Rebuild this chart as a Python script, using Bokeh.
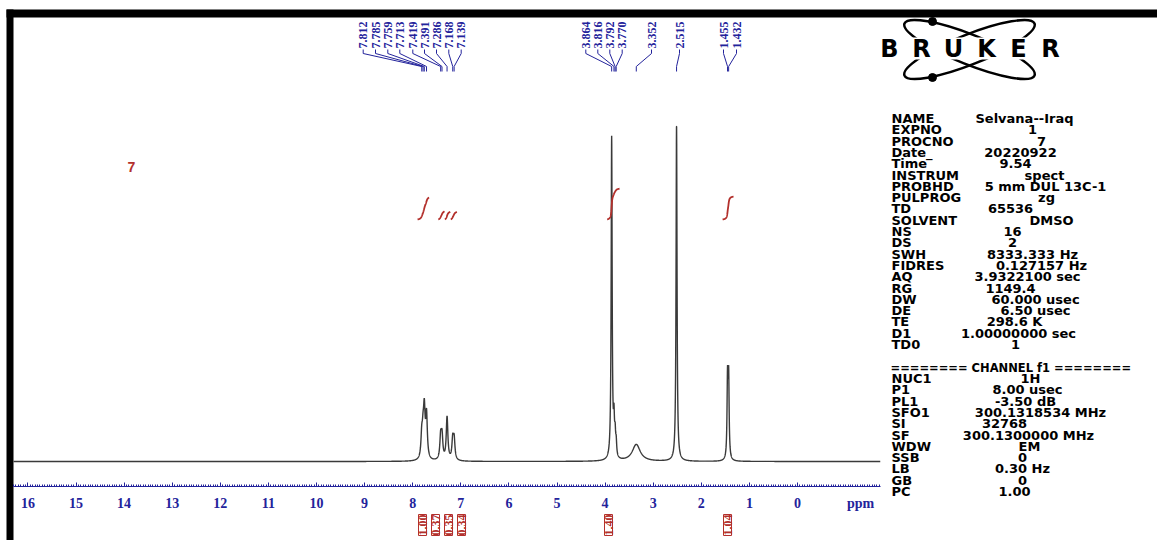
import numpy as np
from bokeh.plotting import figure
from bokeh.models import Range1d, FixedTicker, ColumnDataSource, LabelSet, Label
from bokeh.core.properties import value
from bokeh.embed import file_html
from bokeh.resources import INLINE

# ---------------- data ----------------
peak_ppm = [7.812, 7.785, 7.759, 7.713, 7.419, 7.391, 7.286, 7.168, 7.139,
            3.864, 3.816, 3.792, 3.770, 3.352, 2.515, 1.455, 1.432]
peak_height = [6.5, 6.5, 13.4, 12.8, 6.7, 6.7, 12.8, 5.9, 5.9,
               95.6, 10.0, 6.0, 4.0, 5.0, 100.0, 23.4, 23.4]
peak_halfwidth = [0.02, 0.02, 0.02, 0.02, 0.02, 0.02, 0.02, 0.02, 0.02,
                  0.012, 0.012, 0.012, 0.012, 0.10, 0.012, 0.012, 0.012]

integral_value = [1.00, 0.37, 0.35, 0.34, 1.40, 1.04]
integral_start = [7.90, 7.47, 7.33, 7.21, 3.96, 1.56]
integral_end = [7.66, 7.34, 7.22, 7.08, 3.70, 1.33]

ppm_ticks = [16, 15, 14, 13, 12, 11, 10, 9, 8, 7, 6, 5, 4, 3, 2, 1, 0]
spectrum_start, spectrum_end = 16.3, -1.72

sample_label = "7"

param_names = ["NAME", "EXPNO", "PROCNO", "Date_", "Time", "INSTRUM", "PROBHD",
               "PULPROG", "TD", "SOLVENT", "NS", "DS", "SWH", "FIDRES", "AQ",
               "RG", "DW", "DE", "TE", "D1", "TD0"]
param_values = ["Selvana--Iraq", "1", "7", "20220922", "9.54", "spect",
                "5 mm DUL 13C-1", "zg", "65536", "DMSO", "16", "2",
                "8333.333 Hz", "0.127157 Hz", "3.9322100 sec", "1149.4",
                "60.000 usec", "6.50 usec", "298.6 K", "1.00000000 sec", "1"]
channel_title = "======== CHANNEL f1 ========"
channel_names = ["NUC1", "P1", "PL1", "SFO1", "SI", "SF", "WDW", "SSB", "LB", "GB", "PC"]
channel_values = ["1H", "8.00 usec", "-3.50 dB", "300.1318534 MHz", "32768",
                  "300.1300000 MHz", "EM", "0", "0.30 Hz", "0", "1.00"]

# ---------------- layout (screen positions) ----------------
W, H = 1157, 540
X0, X1 = 16.570, -7.484          # ppm at left / right edge of the frame
Y0, Y1 = -23.44, 136.76          # intensity at bottom / top edge of the frame
AXIS_AT = -7.42
peak_label_px = [362.7, 375, 387.3, 399.3, 412.3, 424, 436, 448.3, 460.7,
                 585.3, 597.3, 609.3, 621.7, 651, 679, 723, 736]
integral_label_px = [422, 435, 448, 461, 608, 727]
param_value_cx = [1024, 1032, 1041, 1020, 1015, 1044, 1045, 1046, 1010, 1051,
                  1012, 1012, 1032, 1041, 1027, 1010, 1035, 1035, 1014, 1018, 1015]
channel_value_cx = [1030, 1027, 1025, 1040, 1004, 1028, 1029, 1022, 1022, 1022, 1014]

NAVY = "#23239b"
RED = "#b3302c"
GRAY = "#3a3a3a"


def px_to_ppm(xp):
    return X0 + (np.asarray(xp, dtype=float)) * (X1 - X0) / W


p = figure(width=W, height=H, output_backend="svg", toolbar_location=None,
           x_range=Range1d(X0, X1), y_range=Range1d(Y0, Y1),
           x_axis_location="below", y_axis_location=None,
           min_border=0, min_border_left=0, min_border_right=0, min_border_top=0,
           min_border_bottom=0,
           outline_line_color=None, background_fill_color="white",
           border_fill_color="white")
p.extra_x_ranges = {"px": Range1d(0, W)}
p.extra_y_ranges = {"py": Range1d(H, 0)}
p.grid.grid_line_color = None

# ppm axis (drawn inside the frame at a fixed location)
ax = p.xaxis[0]
minor = [round(-1.7 + 0.05 * i, 2) for i in range(361)]
ax.ticker = FixedTicker(ticks=ppm_ticks, minor_ticks=minor)
ax.bounds = (spectrum_end, spectrum_start)
ax.fixed_location = AXIS_AT
ax.axis_line_color = NAVY
ax.axis_line_width = 1.2
ax.major_tick_in = 4
ax.major_tick_out = 0
ax.minor_tick_in = 2
ax.minor_tick_out = 0
ax.major_tick_line_color = NAVY
ax.minor_tick_line_color = NAVY
ax.major_label_text_font = "Liberation Serif"
ax.major_label_text_font_style = "bold"
ax.major_label_text_font_size = "14px"
ax.major_label_text_color = NAVY
ax.major_label_standoff = 11

# frame border bars
p.quad(left=[6, 6], right=[W, 13], top=[9, 9], bottom=[17, H], x_range_name="px",
       y_range_name="py", fill_color="black", line_color=None)

# spectrum
grid = np.linspace(spectrum_start, spectrum_end, 9011)
spec = np.zeros_like(grid)
for c, h, g in zip(peak_ppm, peak_height, peak_halfwidth):
    spec += h * g * g / ((grid - c) ** 2 + g * g)
p.line(grid, spec, line_color=GRAY, line_width=1.4)

# integral curves
INT_BASE, INT_SCALE = 219, 22
for v, a, b in zip(integral_value, integral_start, integral_end):
    m = (grid <= a) & (grid >= b)
    cum = np.cumsum(spec[m])
    cum = cum / cum[-1] * v * INT_SCALE
    p.line(grid[m], INT_BASE - cum, y_range_name="py", line_color=RED, line_width=1.8)

# integral values under the axis
isrc = ColumnDataSource(dict(x=integral_label_px, y=[514] * len(integral_value),
                             t=[f"{v:.2f}" for v in integral_value]))
p.add_layout(LabelSet(x="x", y="y", text="t", source=isrc, x_range_name="px",
                      y_range_name="py", angle=np.pi / 2, text_align="right",
                      text_baseline="middle", text_font=value("Liberation Serif"),
                      text_font_style="bold", text_font_size="12px", text_color=RED,
                      border_line_color=RED, border_line_width=1))

# peak labels and connectors
psrc = ColumnDataSource(dict(x=peak_label_px, y=[48] * len(peak_ppm),
                             t=[f"{v:.3f}" for v in peak_ppm]))
p.add_layout(LabelSet(x="x", y="y", text="t", source=psrc, x_range_name="px",
                      y_range_name="py", angle=np.pi / 2, text_align="left",
                      text_baseline="middle", text_font=value("Liberation Serif"),
                      text_font_style="bold", text_font_size="12px", text_color=NAVY))
lab_ppm = px_to_ppm(peak_label_px)
xs = [[lx, lx, pk, pk] for lx, pk in zip(lab_ppm, peak_ppm)]
ys = [[49, 53, 66, 71] for _ in peak_ppm]
p.multi_line(xs, ys, y_range_name="py", line_color=NAVY, line_width=1)

# sample label and ppm unit
p.add_layout(Label(x=131, y=166, x_range_name="px", y_range_name="py", text=sample_label,
                   text_color=RED, text_font="Liberation Sans", text_font_style="bold",
                   text_font_size="14px", text_align="center", text_baseline="middle"))
p.add_layout(Label(x=860, y=503, x_range_name="px", y_range_name="py", text="ppm",
                   text_color=NAVY, text_font="Liberation Serif", text_font_style="bold",
                   text_font_size="14px", text_align="center", text_baseline="middle"))

# Bruker logo
p.ellipse(x=[969, 969], y=[49, 49], width=[140, 140], height=[30, 30],
          angle=[0.38, -0.38], x_range_name="px", y_range_name="py",
          fill_color=None, line_color="black", line_width=2.5)
p.scatter(x=[932, 932], y=[21, 77], size=8, color="black",
          x_range_name="px", y_range_name="py")
p.quad(left=[872], right=[1068], top=[37], bottom=[59], x_range_name="px",
       y_range_name="py", fill_color="white", line_color=None)
p.text(x=[889, 921, 953, 986, 1018, 1050], y=[48] * 6, text=list("BRUKER"),
       x_range_name="px", y_range_name="py", text_font=value("DejaVu Sans"),
       text_font_style="bold", text_font_size="24px", text_align="center",
       text_baseline="middle", text_color="black")

# acquisition parameters
row_y = [118 + 11.3 * i for i in range(len(param_names))]
ch_y = [378 + 11.3 * i for i in range(len(channel_names))]
nsrc = ColumnDataSource(dict(x=[891] * (len(param_names) + len(channel_names)),
                             y=row_y + ch_y, t=param_names + channel_names))
vsrc = ColumnDataSource(dict(x=param_value_cx + channel_value_cx, y=row_y + ch_y,
                             t=param_values + channel_values))
for src, align in ((nsrc, "left"), (vsrc, "center")):
    p.add_layout(LabelSet(x="x", y="y", text="t", source=src, x_range_name="px",
                          y_range_name="py", text_align=align, text_baseline="middle",
                          text_font=value("DejaVu Sans"), text_font_style="bold",
                          text_font_size="13px", text_color="black"))
p.add_layout(Label(x=890, y=367, x_range_name="px", y_range_name="py", text=channel_title,
                   text_font="DejaVu Sans", text_font_style="bold", text_font_size="11.5px",
                   text_color="black", text_align="left", text_baseline="middle"))

open("out.html", "w").write(file_html(p, INLINE))
